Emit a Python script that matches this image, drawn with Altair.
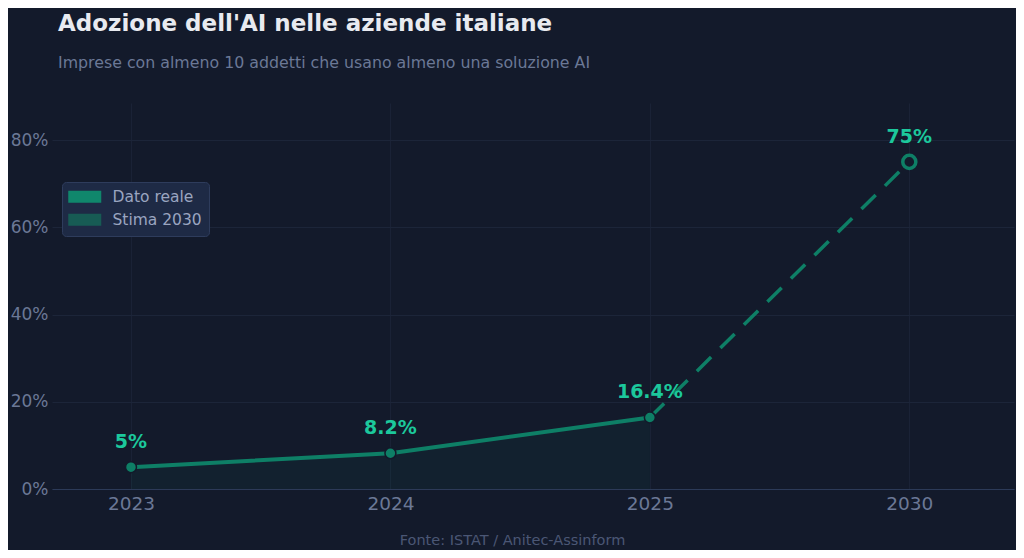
import altair as alt
import pandas as pd

# dati
anni = ["2023", "2024", "2025", "2030"]
adozione = [5.0, 8.2, 16.4, 75.0]
etichette = ["5%", "8.2%", "16.4%", "75%"]
serie_legenda = ["Dato reale", "Stima 2030"]
colori_legenda = ["#10876c", "#175b54"]

BG = "#131a2b"
VERDE = "#0e7f66"
TESTO_VERDE = "#1cc89c"
GRIGIO = "#6b7896"

df = pd.DataFrame({"anno": anni, "valore": adozione, "etichetta": etichette})
reale = df.iloc[:3]
stima = df.iloc[2:]
punto_stima = df.iloc[3:]
leg = pd.DataFrame({"serie": serie_legenda})

x = alt.X(
    "anno:O",
    sort=anni,
    scale=alt.Scale(type="point", padding=0.354, align=0.43),
    axis=alt.Axis(
        title="Fonte: ISTAT / Anitec-Assinform",
        titleX=460, titleY=51, titleAlign="center", titleBaseline="middle",
        titleFontSize=14.5, titleFontWeight="normal", titleColor="#4b5775",
        labelAngle=0, labelFontSize=18.5, labelColor=GRIGIO, labelPadding=5,
        ticks=False, domainColor="#2c3a58", domainWidth=1.2,
        grid=True, gridColor="#1a2236",
    ),
)
y = alt.Y(
    "valore:Q",
    scale=alt.Scale(domain=[0, 88.5], nice=False),
    axis=alt.Axis(
        title=None, values=[0, 20, 40, 60, 80], labelExpr="datum.value + '%'",
        labelFontSize=17, labelColor=GRIGIO, labelPadding=4,
        ticks=False, domain=False, grid=True, gridColor="#1c2539",
    ),
)

area = alt.Chart(reale).mark_area(color=VERDE, opacity=0.08).encode(x=x, y=y)
linea = alt.Chart(reale).mark_line(color=VERDE, strokeWidth=4).encode(x=x, y=y)
tratteggio = alt.Chart(stima).mark_line(
    color=VERDE, strokeWidth=3.5, strokeDash=[20, 13]
).encode(x=x, y=y)
punti = alt.Chart(reale).mark_circle(color=VERDE, size=120, opacity=1,
                                      stroke=BG, strokeWidth=1.5).encode(x=x, y=y)
punto_vuoto = alt.Chart(punto_stima).mark_point(
    color=VERDE, fill=BG, filled=False, size=170, strokeWidth=3.5, opacity=1
).encode(x=x, y=y)
testi = alt.Chart(df).mark_text(
    dy=-25, fontSize=19, fontWeight="bold", color=TESTO_VERDE
).encode(x=x, y=y, text="etichetta:N")

legenda = alt.Chart(leg).mark_square(opacity=0).encode(
    color=alt.Color(
        "serie:N",
        scale=alt.Scale(domain=serie_legenda, range=colori_legenda),
        legend=alt.Legend(
            title=None, orient="none", legendX=10, legendY=79,
            symbolType="M-2.75,-1H2.75V1H-2.75Z", symbolSize=144,
            symbolOpacity=1, symbolStrokeWidth=0, symbolOffset=8,
            labelFontSize=15.5, labelColor="#9aa5c0", labelOffset=20,
            rowPadding=6, padding=7, fillColor="#1e2a45",
            strokeColor="#2e3c5c", cornerRadius=4,
        ),
    )
)

chart = alt.layer(area, linea, tratteggio, punti, punto_vuoto, testi, legenda).properties(
    width=962,
    height=386,
    background=BG,
    autosize=alt.AutoSizeParams(type="none"),
    padding={"left": 44, "top": 95, "right": 2, "bottom": 61},
    title=alt.TitleParams(
        text="Adozione dell'AI nelle aziende italiane",
        subtitle="Imprese con almeno 10 addetti che usano almeno una soluzione AI",
        anchor="start", frame="group", dx=6, offset=32,
        fontSize=23, fontWeight="bold", color="#e8eaf0",
        subtitleFontSize=15.8, subtitleColor=GRIGIO, subtitlePadding=20,
    ),
).configure(font="DejaVu Sans").configure_view(stroke=None)

chart.save("out.html", embed_options={"renderer": "svg", "actions": False})
